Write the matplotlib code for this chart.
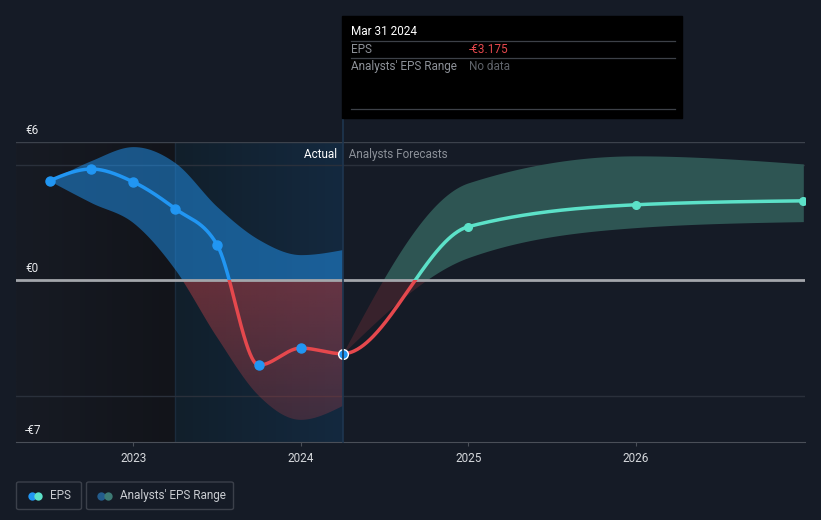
import numpy as np
import matplotlib
matplotlib.use("Agg")
from matplotlib import pyplot as plt
from matplotlib.patches import Rectangle, FancyBboxPatch, Polygon
from matplotlib.lines import Line2D

plt.rcParams['font.family'] = ['Roboto', 'DejaVu Sans']

#################################
# data
#################################
act_t = [2022.5, 2022.75, 2023.0, 2023.25, 2023.5, 2023.75, 2024.0, 2024.25]
act_eps = [4.32, 4.83, 4.27, 3.11, 1.55, -3.67, -2.93, -3.175]
act_hi = [4.32, 5.20, 5.80, 5.10, 3.20, 1.77, 1.12, 1.34]
act_lo = [4.32, 3.37, 2.50, 0.47, -2.46, -5.00, -6.04, -5.44]

fc_t = [2024.25, 2025.0, 2026.0, 2027.0]
fc_eps = [-3.175, 2.33, 3.28, 3.45]
fc_hi = [-3.175, 4.23, 5.40, 5.05]
fc_lo = [-3.175, 0.99, 2.29, 2.55]

year_ticks = [2023, 2024, 2025, 2026]
y_ticks = [6, 0, -7]
y_labels = ["€6", "€0", "-€7"]

#################################
# parameters
#################################
W, H = 821, 520
bg = "#151b26"
xmin, xmax = 2022.30, 2027.01
ymin, ymax = -7, 6
split = 2024.25      # last reported quarter
past_start = 2023.25

blue = "#2196f3"
red = "#e5484d"
cyan = "#5ce1c8"


def smooth(x, y, n=120):
    # monotone cubic (same idea as d3 curveMonotoneX)
    x = np.asarray(x, float)
    y = np.asarray(y, float)
    h = np.diff(x)
    d = np.diff(y) / h
    m = np.zeros_like(y)
    for k in range(1, len(x) - 1):
        p = (d[k-1] * h[k] + d[k] * h[k-1]) / (h[k-1] + h[k])
        m[k] = (np.sign(d[k-1]) + np.sign(d[k])) * min(abs(d[k-1]), abs(d[k]), 0.5 * abs(p))
    m[0] = (3 * d[0] - m[1]) / 2
    m[-1] = (3 * d[-1] - m[-2]) / 2
    xs, ys = [], []
    for k in range(len(h)):
        s = np.linspace(0, 1, n)
        h00 = 2*s**3 - 3*s**2 + 1
        h10 = s**3 - 2*s**2 + s
        h01 = -2*s**3 + 3*s**2
        h11 = s**3 - s**2
        ys.append(h00*y[k] + h10*h[k]*m[k] + h01*y[k+1] + h11*h[k]*m[k+1])
        xs.append(x[k] + s*h[k])
    return np.concatenate(xs), np.concatenate(ys)


def fx(px):
    return px / W


def fy(py):
    return 1 - py / H


def clip_box(x0, x1, lo, hi):
    return Rectangle((x0, lo), x1 - x0, hi - lo, transform=ax.transData)


fig = plt.figure(figsize=(W/100, H/100), dpi=100)
fig.patch.set_facecolor(bg)
ax = fig.add_axes([fx(16), fy(442), (805-16)/W, 300/H])
ax.set_facecolor(bg)
ax.set_xlim(xmin, xmax)
ax.set_ylim(ymin, ymax)

#################################
# background regions
#################################
g = np.linspace(0, 1, 64)
c0 = np.array([23, 27, 36]) / 255
c1 = np.array([18, 20, 26]) / 255
left_img = np.zeros((2, 64, 3))
left_img[:] = c0 + (c1 - c0) * g[:, None]
ax.imshow(left_img, extent=[xmin, past_start, ymin, ymax], aspect='auto', zorder=0, interpolation='bilinear')
c0 = np.array([17, 31, 43]) / 255
c1 = np.array([20, 41, 63]) / 255
past_img = np.zeros((2, 64, 3))
past_img[:] = c0 + (c1 - c0) * g[:, None]
ax.imshow(past_img, extent=[past_start, split, ymin, ymax], aspect='auto', zorder=0, interpolation='bilinear')
ax.axvline(past_start, color="#1b2b3c", lw=1, zorder=0.5)

# grid
ax.axhline(6, color="#3c424c", lw=1, zorder=1)
for v in [5, -5]:
    ax.axhline(v, color="#2a303b", lw=1, zorder=1)

#################################
# bands
#################################
tx, thi = smooth(act_t, act_hi)
_, tlo = smooth(act_t, act_lo)
f = ax.fill_between(tx, tlo, thi, color=blue, alpha=0.5, lw=0, zorder=2)
f.set_clip_path(clip_box(xmin, xmax, 0, 20))

# red gradient below zero, clipped to the band
poly = Polygon(np.column_stack([np.concatenate([tx, tx[::-1]]),
                                np.concatenate([thi, tlo[::-1]])]),
               closed=True, facecolor="none", edgecolor="none", transform=ax.transData)
ax.add_patch(poly)
gy = np.linspace(0, 1, 64)[:, None]
red_img = np.zeros((64, 2, 4))
red_img[..., 0] = 229/255
red_img[..., 1] = 72/255
red_img[..., 2] = 77/255
red_img[..., 3] = (0.40 - 0.22 * gy) * np.ones((1, 2))
im = ax.imshow(red_img, extent=[xmin, split, -7, 0], aspect='auto', zorder=2, interpolation='bilinear')
im.set_clip_path(poly)

fx_, fhi = smooth(fc_t, fc_hi)
_, flo = smooth(fc_t, fc_lo)
f2 = ax.fill_between(fx_, flo, fhi, color="#2e5553", lw=0, zorder=2)
f2.set_clip_path(clip_box(xmin, xmax, 0, 20))
f3 = ax.fill_between(fx_, flo, fhi, color=red, alpha=0.17, lw=0, zorder=2)
f3.set_clip_path(clip_box(xmin, xmax, -20, 0))

# zero line
ax.axhline(0, color="#a3a6ab", lw=2, zorder=3)

#################################
# EPS line: one curve through actual + forecast points
#################################
all_t = act_t + fc_t[1:]
all_eps = act_eps + fc_eps[1:]
ex, ey = smooth(all_t, all_eps)
l1, = ax.plot(ex, ey, color=blue, lw=2.5, zorder=4)
l1.set_clip_path(clip_box(xmin, split, 0, 20))
l2, = ax.plot(ex, ey, color=cyan, lw=2.5, zorder=4)
l2.set_clip_path(clip_box(split, xmax, 0, 20))
l3, = ax.plot(ex, ey, color=red, lw=2.5, zorder=4)
l3.set_clip_path(clip_box(xmin, xmax, -20, 0))

ax.plot(act_t[:-1], act_eps[:-1], 'o', color=blue, ms=6.5, zorder=5)
ax.plot(act_t[-1], act_eps[-1], 'o', color=blue, mec="white", mew=1, ms=7, zorder=6)
ax.plot(fc_t[1:], fc_eps[1:], 'o', color=cyan, ms=5.5, zorder=5)

#################################
# axes styling
#################################
for s in ["top", "left", "right"]:
    ax.spines[s].set_visible(False)
ax.spines["bottom"].set_color("#4a4f58")
ax.set_yticks([])
ax.set_xticks(year_ticks)
ax.set_xticklabels([str(y) for y in year_ticks])
ax.tick_params(axis='x', colors="#4a4f58", length=3, pad=4, labelsize=8.5, labelcolor="#d5d8dc")

for v, lab in zip(y_ticks, y_labels):
    ax.annotate(lab, xy=(0, v), xycoords=('axes fraction', 'data'),
                xytext=(6.5, 6), textcoords='offset points',
                color="#e6e8eb", fontsize=8.5, va='baseline', ha='left',
                annotation_clip=False)

ax.text(split, 5.45, "Actual  ", color="white", fontsize=8.5, ha='right', va='center', zorder=7)
ax.text(split, 5.45, "  Analysts Forecasts", color="#8b9098", fontsize=8.5, ha='left', va='center', zorder=7)

# vertical marker line up to the tooltip
fig.add_artist(Line2D([fx(343), fx(343)], [fy(442), fy(118)], color="#1e3650", lw=1.2,
                      transform=fig.transFigure, zorder=1))

#################################
# tooltip
#################################
fig.add_artist(Rectangle((fx(342), fy(118)), 340/W, 102/H, color="black",
                         transform=fig.transFigure, zorder=8))
for py in [41, 58, 109]:
    fig.add_artist(Line2D([fx(351), fx(675)], [fy(py), fy(py)], color="#3d4148", lw=0.9,
                          transform=fig.transFigure, zorder=9))
fig.text(fx(351), fy(31.5), "Mar 31 2024", color="white", fontsize=8.5, va='center', zorder=10)
fig.text(fx(351), fy(49.5), "EPS", color="#8d9198", fontsize=8.5, va='center', zorder=10)
fig.text(fx(469), fy(49.5), "-€3.175", color="#e5484d", fontsize=8.5, va='center', zorder=10)
fig.text(fx(351), fy(66.5), "Analysts' EPS Range", color="#8d9198", fontsize=8.5, va='center', zorder=10)
fig.text(fx(469), fy(66.5), "No data", color="#5f636a", fontsize=8.5, va='center', zorder=10)

#################################
# legend
#################################
for x0, x1 in [(16.5, 81.5), (86.5, 233.5)]:
    fig.add_artist(FancyBboxPatch((fx(x0), fy(509.5)), (x1 - x0)/W, 27.5/H,
                                  boxstyle="round,pad=0,rounding_size=0.003",
                                  facecolor="none", edgecolor="#3b404a", lw=1,
                                  transform=fig.transFigure))
for px, col in [(31.5, blue), (37.5, cyan), (101, "#235c8c"), (108, "#3d7a74")]:
    fig.add_artist(Line2D([fx(px)], [fy(495.5)], marker='o', ms=6, color=col, mew=0,
                          transform=fig.transFigure))
fig.text(fx(50), fy(495.5), "EPS", color="#c9ccd1", fontsize=8.5, va='center')
fig.text(fx(120), fy(495.5), "Analysts' EPS Range", color="#c9ccd1", fontsize=8.5, va='center')

fig.savefig("out.png", dpi=100, facecolor=bg)
